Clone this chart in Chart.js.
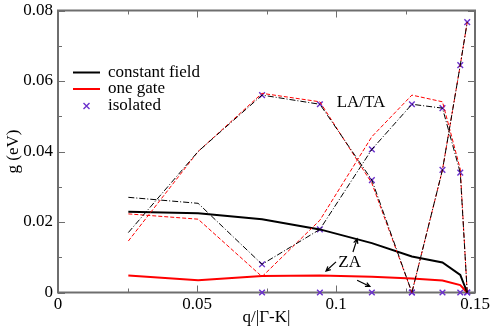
<!DOCTYPE html>
<html>
<head>
<meta charset="utf-8">
<script src="https://cdn.jsdelivr.net/npm/chart.js@4.4.1/dist/chart.umd.min.js"></script>
<style>
  html, body { margin: 0; padding: 0; background: #fff; }
  #wrap { width: 494px; height: 332px; }
</style>
</head>
<body>
<div id="wrap"><canvas id="chart" width="494" height="332"></canvas></div>
<script>
// q / |Γ-K| sample points
const q = [0.0253, 0.0504, 0.0734, 0.0942, 0.1129, 0.1273, 0.1383, 0.1447, 0.1472];
const isoQ = [0.0734, 0.0942, 0.1129, 0.1273, 0.1383, 0.1447, 0.1472];

// ZA branch (solid)
const cfZA = [0.0229, 0.0225, 0.0208, 0.0179, 0.0140, 0.0102, 0.0085, 0.0050, 0];
const ogZA = [0.0048, 0.0035, 0.0047, 0.0048, 0.0045, 0.0040, 0.0034, 0.0021, 0];

// LA/TA branches (thin dashed)
const cfLA1 = [0.0170, 0.0400, 0.0560, 0.0534, 0.0319, 0, 0.0348, 0.0645, 0.0767];
const cfLA2 = [0.0270, 0.0253, 0.0080, 0.0179, 0.0406, 0.0534, 0.0523, 0.0340, 0];
const ogLA1 = [0.0146, 0.0400, 0.0565, 0.0541, 0.0310, 0, 0.0348, 0.0645, 0.0767];
const ogLA2 = [0.0223, 0.0208, 0.0045, 0.0205, 0.0442, 0.0560, 0.0541, 0.0350, 0];

// isolated (markers only)
const isoZA = [0, 0, 0, 0, 0, 0, 0];
const isoLA1 = [0.0560, 0.0534, 0.0319, 0, 0.0348, 0.0645, 0.0767];
const isoLA2 = [0.0080, 0.0179, 0.0406, 0.0534, 0.0523, 0.0340, 0];

const xTicks = [0, 0.05, 0.1, 0.15];
const yTicks = [0, 0.02, 0.04, 0.06, 0.08];
const xMinor = [0.025, 0.075, 0.125];
const yMinor = [0.01, 0.03, 0.05, 0.07];

const FONT = "'Liberation Serif', 'Times New Roman', serif";
const ISO_COLOR = '#6a30cc';
const AXIS_COLOR = '#6e6e6e';

const pts = (xs, ys) => xs.map((x, i) => ({ x: x, y: ys[i] }));

function lineSet(label, data, color, width, dash) {
  return {
    label: label,
    data: data,
    showLine: true,
    borderColor: color,
    backgroundColor: color,
    borderWidth: width,
    borderDash: dash,
    pointRadius: 0,
    tension: 0,
    clip: 4
  };
}

function markerSet(label, data) {
  return {
    label: label,
    data: data,
    showLine: false,
    pointStyle: 'crossRot',
    pointRadius: 4,
    pointBorderColor: ISO_COLOR,
    pointBorderWidth: 1.4,
    borderColor: ISO_COLOR,
    backgroundColor: ISO_COLOR,
    clip: false
  };
}

// frame, inward ticks, legend and annotations
const decorations = {
  id: 'decorations',
  beforeDatasetsDraw(chart) {
    const { ctx, chartArea: a, scales: { x, y } } = chart;
    ctx.save();
    ctx.strokeStyle = AXIS_COLOR;
    ctx.lineWidth = 1;
    const tick = (vals, len) => {
      vals.forEach(v => {
        const px = Math.round(x.getPixelForValue(v)) + 0.5;
        ctx.beginPath();
        ctx.moveTo(px, a.bottom); ctx.lineTo(px, a.bottom - len);
        ctx.moveTo(px, a.top); ctx.lineTo(px, a.top + len);
        ctx.stroke();
      });
    };
    const tickY = (vals, len) => {
      vals.forEach(v => {
        const py = Math.round(y.getPixelForValue(v)) + 0.5;
        ctx.beginPath();
        ctx.moveTo(a.left, py); ctx.lineTo(a.left + len, py);
        ctx.moveTo(a.right, py); ctx.lineTo(a.right - len, py);
        ctx.stroke();
      });
    };
    tick(xTicks, 7); tick(xMinor, 4);
    tickY(yTicks, 7); tickY(yMinor, 4);
    ctx.lineWidth = 2;
    ctx.strokeRect(a.left, a.top, a.right - a.left, a.bottom - a.top);
    ctx.restore();
  },
  afterDraw(chart) {
    const { ctx, scales: { x, y } } = chart;
    ctx.save();
    ctx.font = '17px ' + FONT;
    ctx.fillStyle = '#000';
    ctx.textBaseline = 'middle';

    // legend
    const rows = [
      { text: 'constant field', color: '#000', kind: 'line', yy: 72.5 },
      { text: 'one gate', color: '#ff0000', kind: 'line', yy: 89 },
      { text: 'isolated', color: ISO_COLOR, kind: 'mark', yy: 106 }
    ];
    rows.forEach(r => {
      ctx.strokeStyle = r.color;
      if (r.kind === 'line') {
        ctx.lineWidth = 2;
        ctx.beginPath(); ctx.moveTo(73, r.yy); ctx.lineTo(100, r.yy); ctx.stroke();
      } else {
        ctx.lineWidth = 1.4;
        const c = 86.5, d = 3;
        ctx.beginPath();
        ctx.moveTo(c - d, r.yy - d); ctx.lineTo(c + d, r.yy + d);
        ctx.moveTo(c - d, r.yy + d); ctx.lineTo(c + d, r.yy - d);
        ctx.stroke();
      }
      ctx.textAlign = 'left';
      ctx.fillText(r.text, 108, r.yy);
    });

    // text labels
    ctx.textAlign = 'center';
    ctx.fillText('LA/TA', x.getPixelForValue(0.109), y.getPixelForValue(0.054));
    ctx.fillText('ZA', x.getPixelForValue(0.1049), y.getPixelForValue(0.0086));

    // arrows pointing from ZA to the curves
    const arrows = [
      [0.1061, 0.0115, 0.1076, 0.0152],
      [0.1000, 0.0087, 0.0964, 0.0061],
      [0.1076, 0.0035, 0.1122, 0.0017]
    ];
    ctx.strokeStyle = '#000';
    ctx.lineWidth = 1.2;
    arrows.forEach(([q0, g0, q1, g1]) => {
      const x0 = x.getPixelForValue(q0), y0 = y.getPixelForValue(g0);
      const x1 = x.getPixelForValue(q1), y1 = y.getPixelForValue(g1);
      const ang = Math.atan2(y1 - y0, x1 - x0);
      const h = 5;
      ctx.beginPath();
      ctx.moveTo(x0, y0); ctx.lineTo(x1, y1);
      ctx.moveTo(x1 - h * Math.cos(ang - 0.45), y1 - h * Math.sin(ang - 0.45));
      ctx.lineTo(x1, y1);
      ctx.lineTo(x1 - h * Math.cos(ang + 0.45), y1 - h * Math.sin(ang + 0.45));
      ctx.stroke();
    });
    ctx.restore();
  }
};

new Chart(document.getElementById('chart'), {
  type: 'scatter',
  data: {
    datasets: [
      lineSet('constant field LA/TA 1', pts(q, cfLA1), '#000', 1, [6, 2, 1, 2]),
      lineSet('constant field LA/TA 2', pts(q, cfLA2), '#000', 1, [6, 2, 1, 2]),
      lineSet('one gate LA/TA 1', pts(q, ogLA1), '#ff0000', 1, [4, 2]),
      lineSet('one gate LA/TA 2', pts(q, ogLA2), '#ff0000', 1, [4, 2]),
      lineSet('constant field', pts(q, cfZA), '#000', 2, []),
      lineSet('one gate', pts(q, ogZA), '#ff0000', 2, []),
      markerSet('isolated', pts(isoQ, isoZA)),
      markerSet('isolated LA/TA 1', pts(isoQ, isoLA1)),
      markerSet('isolated LA/TA 2', pts(isoQ, isoLA2))
    ]
  },
  options: {
    responsive: false,
    animation: false,
    devicePixelRatio: 1,
    layout: { padding: { top: 10.5, right: 19, left: 0, bottom: 0 } },
    plugins: { legend: { display: false }, tooltip: { enabled: false } },
    scales: {
      x: {
        type: 'linear',
        min: 0,
        max: 0.15,
        afterBuildTicks: s => { s.ticks = xTicks.map(v => ({ value: v })); },
        afterFit: s => { s.height = 39.5; s.paddingLeft = 0; s.paddingRight = 0; },
        grid: { display: false, drawTicks: false },
        border: { display: false },
        ticks: {
          color: '#000',
          font: { family: FONT, size: 17 },
          padding: 2,
          maxRotation: 0,
          callback: v => String(v)
        },
        title: {
          display: true,
          text: 'q/|Γ-K|',
          color: '#000',
          font: { family: FONT, size: 17 },
          padding: { top: 0, bottom: 4 }
        }
      },
      y: {
        type: 'linear',
        min: 0,
        max: 0.08,
        afterBuildTicks: s => { s.ticks = yTicks.map(v => ({ value: v })); },
        afterFit: s => { s.width = 58; s.paddingTop = 0; s.paddingBottom = 0; },
        grid: { display: false, drawTicks: false },
        border: { display: false },
        ticks: {
          color: '#000',
          font: { family: FONT, size: 17 },
          padding: 5,
          callback: v => String(v)
        },
        title: {
          display: true,
          text: 'g (eV)',
          color: '#000',
          font: { family: FONT, size: 17 },
          padding: { top: 3, bottom: 0 }
        }
      }
    }
  },
  plugins: [decorations]
});
</script>
</body>
</html>
